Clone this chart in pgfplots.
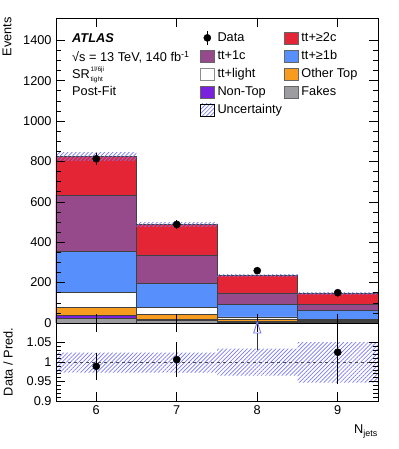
\documentclass[border=0pt]{standalone}
\usepackage{fontspec}
\setmainfont{Liberation Sans}
\usepackage{pgfplots}
\usepackage{pgfplotstable}
\pgfplotsset{compat=1.18}
\usetikzlibrary{patterns.meta}

% Petroff palette
\definecolor{cred}{HTML}{E42536}
\definecolor{cmag}{HTML}{964A8B}
\definecolor{cblue}{HTML}{5790FC}
\definecolor{corange}{HTML}{F89C20}
\definecolor{cviolet}{HTML}{7A21DD}
\definecolor{cgray}{HTML}{9C9CA1}
\definecolor{hatch}{RGB}{120,120,245}

% top edge of each component in the stack
\pgfplotstableread{
n  fakes nontop othertop light b1  c1  c2
6  23    36     77       152   354 633 823
7  11    19     42       77    198 337 488
8  4     7      20       30    91  149 235
9  4     6      14       16    63  94  145
}\stack

\pgfplotsset{
  atl/.style={
    scale only axis, width=322bp,
    xmin=5.5, xmax=9.5, xtick={6,7,8,9},
    axis on top, tick align=inside,
    major tick length=9bp, minor tick length=5bp,
    every tick/.style={black, line width=0.6pt},
    axis line style={line width=0.7pt},
    /pgf/number format/assume math mode=true,
    /pgf/number format/1000 sep={},
  },
  bar/.style={ybar, bar width=1, bar shift=0pt, draw=black!75, line width=0.6pt, forget plot},
  band/.style={pattern={Lines[angle=45,distance=2.9pt,line width=0.7pt]}, pattern color=hatch, draw=none, forget plot},
  boxleg/.style={legend image code/.code={\draw[##1] (0bp,-6bp) rectangle (14bp,6bp);}},
}
\newcommand\scr{\fontsize{6.5}{7}\selectfont}

\begin{document}
\fontsize{12.8}{15}\selectfont
\begin{tikzpicture}
\begin{axis}[atl, name=main, height=305bp,
    ymin=0, ymax=1510, ytick={0,200,...,1400}, minor y tick num=3,
    xticklabels={},
    legend columns=2, legend cell align=left,
    legend style={at={(rel axis cs:0.447,0.965)}, anchor=north west,
      draw=none, fill=none, inner sep=0pt,
      nodes={text height=9.5bp, text depth=2.5bp, inner ysep=3bp, inner xsep=2bp},
      /tikz/every odd column/.style={column sep=1bp},
      /tikz/every even column/.style={column sep=0bp}},
  ]
  \addplot[bar, fill=cred]    table[x=n, y=c2]       {\stack};
  \addplot[bar, fill=cmag]    table[x=n, y=c1]       {\stack};
  \addplot[bar, fill=cblue]   table[x=n, y=b1]       {\stack};
  \addplot[bar, fill=white]   table[x=n, y=light]    {\stack};
  \addplot[bar, fill=corange] table[x=n, y=othertop] {\stack};
  \addplot[bar, fill=cviolet] table[x=n, y=nontop]   {\stack};
  \addplot[bar, fill=cgray]   table[x=n, y=fakes]    {\stack};

  % uncertainty on the total
  \addplot[band] coordinates {(5.5,843) (6.5,843) (6.5,803) (5.5,803)} -- cycle;
  \addplot[band] coordinates {(6.5,500) (7.5,500) (7.5,476) (6.5,476)} -- cycle;
  \addplot[band] coordinates {(7.5,241) (8.5,241) (8.5,229) (7.5,229)} -- cycle;
  \addplot[band] coordinates {(8.5,149) (9.5,149) (9.5,141) (8.5,141)} -- cycle;

  \addplot[only marks, mark=*, mark size=3.6pt, black, forget plot,
    error bars/.cd, y dir=both, y explicit, error mark=none,
    error bar style={line width=1pt}]
    coordinates {(6,813) +- (0,28.5) (7,488) +- (0,22) (8,259) +- (0,16) (9,150) +- (0,12)};

  \addlegendimage{legend image code/.code={
      \path (0bp,0bp) (14bp,0bp);
      \draw[black, line width=1pt] (7bp,-7bp) -- (7bp,7bp);
      \fill[black] (7bp,0bp) circle (3.6bp);}}
  \addlegendentry{Data}
  \addlegendimage{boxleg, fill=cred, draw=black!60}
  \addlegendentry{tt+≥2c}
  \addlegendimage{boxleg, fill=cmag, draw=black!60}
  \addlegendentry{tt+1c}
  \addlegendimage{boxleg, fill=cblue, draw=black!60}
  \addlegendentry{tt+≥1b}
  \addlegendimage{boxleg, fill=white, draw=black!45}
  \addlegendentry{tt+light}
  \addlegendimage{boxleg, fill=corange, draw=black!60}
  \addlegendentry{Other Top}
  \addlegendimage{boxleg, fill=cviolet, draw=black!60}
  \addlegendentry{Non-Top}
  \addlegendimage{boxleg, fill=cgray, draw=black!60}
  \addlegendentry{Fakes}
  \addlegendimage{boxleg, draw=none, pattern={Lines[angle=45,distance=2.9pt,line width=0.7pt]}, pattern color=hatch}
  \addlegendentry{Uncertainty}

  \node[anchor=base west, inner xsep=0pt, font=\bfseries\itshape] at (rel axis cs:0,1) [xshift=16bp, yshift=-24.7bp] {ATLAS};
  \node[anchor=base west, inner xsep=0pt] at (rel axis cs:0,1) [xshift=16bp, yshift=-43.7bp] {√s = 13 TeV, 140 fb\textsuperscript{-1}};
  \node[anchor=base west, inner xsep=0pt] at (rel axis cs:0,1) [xshift=16bp, yshift=-60.5bp] {SR};
  \node[anchor=base west, inner sep=0pt] at (rel axis cs:0,1) [xshift=34.5bp, yshift=-53.5bp] {\scr 1l/6ji};
  \node[anchor=base west, inner sep=0pt] at (rel axis cs:0,1) [xshift=34.5bp, yshift=-64bp] {\scr tight};
  \node[anchor=base west, inner xsep=0pt] at (rel axis cs:0,1) [xshift=16bp, yshift=-78bp] {Post-Fit};
\end{axis}

\begin{axis}[atl, name=ratio, at={(main.south west)}, anchor=north west, height=78bp,
    ymin=0.9, ymax=1.1, ytick={0.9,0.95,1,1.05}, minor y tick num=4,
    xticklabels={6,7,8,9},
  ]
  \addplot[band] coordinates {(5.5,1.024) (7.5,1.024) (7.5,1.034) (8.5,1.034) (8.5,1.051) (9.5,1.051)
    (9.5,0.947) (8.5,0.947) (8.5,0.965) (7.5,0.965) (7.5,0.973) (5.5,0.973)} -- cycle;
  \addplot[black!70, dashed, line width=0.6pt, forget plot] coordinates {(5.5,1) (9.5,1)};

  \addplot[only marks, mark=*, mark size=3.6pt, black, forget plot,
    error bars/.cd, y dir=both, y explicit, error mark=none,
    error bar style={line width=1pt}]
    coordinates {(6,0.989) += (0,0.033) -= (0,0.034)
                 (7,1.006) += (0,0.045) -= (0,0.045)
                 (9,1.025) += (0,0.090) -= (0,0.081)};
  % bin 8 lies above the range: arrow
  \addplot[black!80, line width=1pt, forget plot] coordinates {(8,1.03) (8,1.074)};
  \addplot[only marks, mark=triangle, mark size=7.5pt, color=hatch, line width=0.9pt,
    mark options={xscale=0.55}, forget plot] coordinates {(8,1.084)};
\end{axis}

\node[rotate=90, anchor=east, inner sep=0pt] at ([xshift=-49bp, yshift=1bp]main.north west) {Events};
\node[rotate=90, inner sep=0pt] at ([xshift=-48bp]ratio.west) {Data / Pred.};
\node[anchor=north east, inner sep=0pt] at ([yshift=-24bp]ratio.south east) {N\textsubscript{jets}};

\pgfresetboundingbox
\path (main.north west) ++(-56bp,18bp) rectangle ++(399bp,-449bp);
\end{tikzpicture}
\end{document}
